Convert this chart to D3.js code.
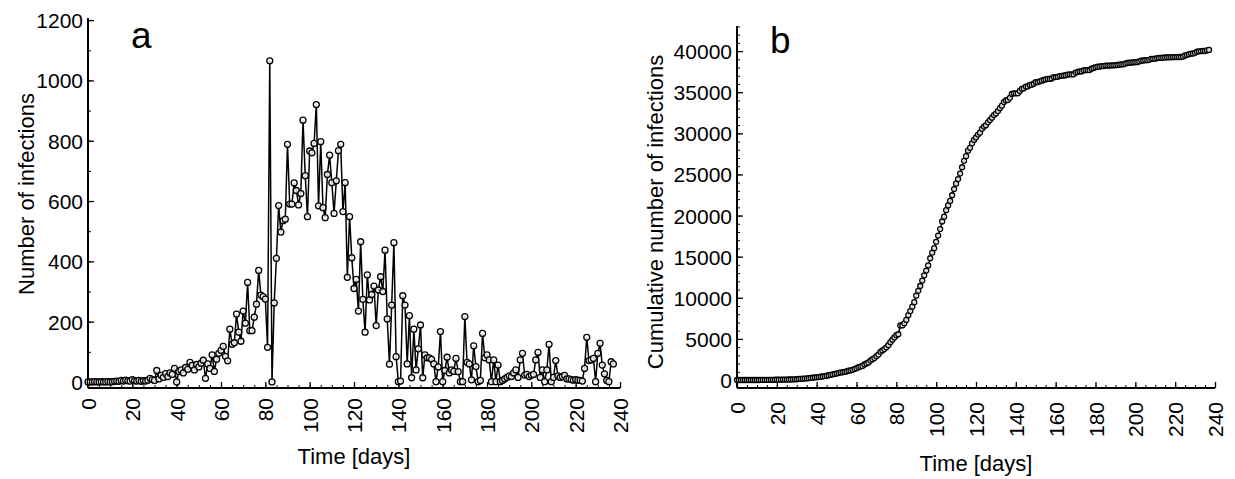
<!DOCTYPE html>
<meta charset="utf-8">
<style>
  body { margin: 0; background: #fff; }
  text { font-family: "Liberation Sans", Arial, sans-serif; fill: #000; }
</style>
<body>
<script src="https://d3js.org/d3.v7.min.js"></script>
<script>

// daily number of infections, day 0 .. day 237
const dailyInfections = [
  0, 0, 0, 1, 0, 0, 1, 0, 0, 1,
  0, 1, 2, 3, 2, 5, 3, 6, 4, 3,
  8, 4, 3, 5, 2, 4, 3, 6, 12, 8,
  5, 38, 10, 22, 15, 28, 18, 30, 25, 45,
  0, 35, 40, 30, 48, 42, 65, 55, 40, 58,
  50, 62, 72, 12, 60, 45, 90, 35, 75, 95,
  105, 118, 85, 70, 175, 125, 130, 225, 165, 135,
  235, 195, 330, 170, 170, 215, 258, 370, 288, 283,
  275, 115, 1065, 0, 262, 410, 585, 497, 535, 540,
  788, 590, 590, 660, 635, 587, 625, 868, 684, 548,
  766, 760, 791, 920, 584, 797, 578, 545, 688, 752,
  661, 559, 667, 767, 788, 565, 661, 347, 548, 412,
  310, 340, 235, 465, 274, 165, 355, 272, 290, 318,
  187, 305, 349, 300, 437, 209, 59, 255, 462, 84,
  1, 3, 286, 255, 60, 220, 14, 175, 40, 110,
  189, 14, 90, 80, 80, 75, 60, 1, 50, 167,
  1, 38, 82, 30, 40, 35, 78, 34, 1, 1,
  217, 65, 60, 7, 120, 51, 1, 5, 161, 80,
  90, 73, 1, 73, 1, 56, 1, 5, 10, 15,
  20, 18, 30, 40, 15, 73, 95, 23, 25, 18,
  22, 25, 73, 98, 15, 40, 1, 40, 125, 1,
  15, 71, 20, 15, 18, 22, 10, 10, 8, 6,
  8, 6, 5, 3, 45, 148, 71, 73, 78, 1,
  95, 128, 56, 27, 5, 1, 67, 60
];
const days = dailyInfections.map((d, i) => i);
// panel b is the running total of panel a
const cumulativeInfections = Array.from(d3.cumsum(dailyInfections));

const xTicks = d3.range(0, 241, 20);
const yTicksA = d3.range(0, 1201, 200);
const yTicksB = d3.range(0, 40001, 5000);

const W = 1235, H = 479;
const svg = d3.select("body").append("svg")
    .attr("width", W)
    .attr("height", H);

function panel(opt) {
  const x = d3.scaleLinear().domain([0, 240]).range([opt.left, opt.right]);
  const y = d3.scaleLinear().domain(opt.yDomain).range([opt.bottom, opt.top]);
  const g = svg.append("g");

  // minor ticks
  g.append("g")
      .attr("transform", "translate(0," + opt.bottom + ")")
      .call(d3.axisTop(x).tickValues(d3.range(0, 241, opt.xMinor)).tickSize(3).tickFormat(""))
      .call(a => a.select(".domain").remove());
  g.append("g")
      .attr("transform", "translate(" + opt.left + ",0)")
      .call(d3.axisRight(y).tickValues(d3.range(0, opt.yDomain[1], opt.yMinor)).tickSize(3).tickFormat(""))
      .call(a => a.select(".domain").remove());

  // x axis
  const xa = g.append("g")
      .attr("transform", "translate(0," + opt.bottom + ")")
      .call(d3.axisTop(x).tickValues(xTicks).tickSize(6).tickSizeOuter(0).tickFormat(d3.format("d")));
  xa.select(".domain").attr("d", "M" + opt.left + ",0H" + opt.right).attr("stroke-width", 2);
  xa.selectAll(".tick line").attr("stroke-width", 1.3);
  xa.selectAll(".tick text")
      .attr("font-size", 21)
      .attr("text-anchor", "end")
      .attr("transform", "rotate(-90)")
      .attr("x", -opt.xLabelGap)
      .attr("y", 0)
      .attr("dy", "0.36em");

  // y axis
  const ya = g.append("g")
      .attr("transform", "translate(" + opt.left + ",0)")
      .call(d3.axisRight(y).tickValues(opt.yTicks).tickSize(6).tickSizeOuter(0).tickFormat(d3.format("d")));
  ya.select(".domain").attr("d", "M0," + opt.bottom + "V" + opt.top).attr("stroke-width", 2);
  ya.selectAll(".tick line").attr("stroke-width", 1.3);
  ya.selectAll(".tick text")
      .attr("font-size", 21)
      .attr("text-anchor", "end")
      .attr("x", -5)
      .attr("dy", "0.36em");
  g.selectAll(".tick text").attr("fill", "#000").style("font-family", "Liberation Sans, Arial, sans-serif");

  // line and circle markers
  const line = d3.line().x((d, i) => x(days[i])).y(d => y(d));
  g.append("path")
      .datum(opt.values)
      .attr("fill", "none")
      .attr("stroke", "#000")
      .attr("stroke-width", 1.5)
      .attr("d", line);
  g.append("g").selectAll("circle")
    .data(opt.values)
    .join("circle")
      .attr("cx", (d, i) => x(days[i]))
      .attr("cy", d => y(d))
      .attr("r", opt.r)
      .attr("fill", "#fff")
      .attr("fill-opacity", 0.8)
      .attr("stroke", "#000")
      .attr("stroke-width", 1.3);

  // titles
  g.append("text")
      .attr("x", (opt.left + opt.right) / 2)
      .attr("y", opt.xTitleY)
      .attr("text-anchor", "middle")
      .attr("font-size", 22)
      .text("Time [days]");
  g.append("text")
      .attr("transform", "translate(" + opt.yTitleX + "," + opt.yTitleY + ") rotate(-90)")
      .attr("text-anchor", "middle")
      .attr("font-size", 22)
      .text(opt.yTitle);
  g.append("text")
      .attr("x", opt.letterX)
      .attr("y", opt.letterY)
      .attr("font-size", 37)
      .text(opt.letter);
}

panel({
  left: 88, right: 620, top: 18, bottom: 388,
  yDomain: [-20, 1207], yTicks: yTicksA, xMinor: 5, yMinor: 100,
  values: dailyInfections, r: 3,
  xLabelGap: 10, xTitleY: 464,
  yTitle: "Number of infections", yTitleX: 34, yTitleY: 194,
  letter: "a", letterX: 131, letterY: 48
});

panel({
  left: 737, right: 1215, top: 26, bottom: 388,
  yDomain: [-970, 43050], yTicks: yTicksB, xMinor: 5, yMinor: 1000,
  values: cumulativeInfections, r: 2.5,
  xLabelGap: 14, xTitleY: 471,
  yTitle: "Cumulative number of infections", yTitleX: 663, yTitleY: 212,
  letter: "b", letterX: 770, letterY: 53
});

</script>
</body>
